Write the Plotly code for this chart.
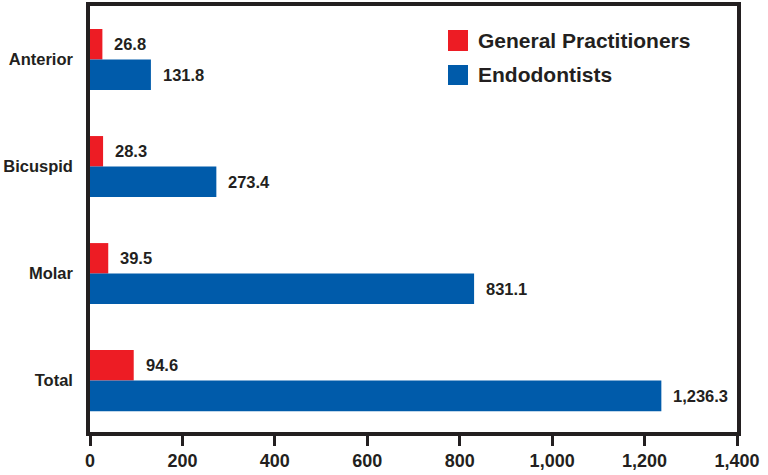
import plotly.graph_objects as go

categories = ["Anterior", "Bicuspid", "Molar", "Total"]
gp_values = [26.8, 28.3, 39.5, 94.6]
endo_values = [131.8, 273.4, 831.1, 1236.3]
series_names = ["General Practitioners", "Endodontists"]
x_ticks = [0, 200, 400, 600, 800, 1000, 1200, 1400]
x_tick_labels = ["0", "200", "400", "600", "800", "1,000", "1,200", "1,400"]

RED = "#ED1C24"
BLUE = "#005BAA"
INK = "#231F20"
FONT = "Liberation Sans"

fig = go.Figure()
fig.add_trace(go.Bar(y=categories, x=gp_values, orientation="h", name=series_names[0],
                     marker=dict(color=RED, line=dict(width=0)), showlegend=False))
fig.add_trace(go.Bar(y=categories, x=endo_values, orientation="h", name=series_names[1],
                     marker=dict(color=BLUE, line=dict(width=0)), showlegend=False))

# value labels placed just past the end of each bar
annotations = []
for vals, shift in ((gp_values, -0.145), (endo_values, 0.145)):
    for i, v in enumerate(vals):
        annotations.append(dict(
            x=v, y=i + shift, xref="x", yref="y",
            text=f"<b>{v:,.1f}</b>", showarrow=False,
            xanchor="left", yanchor="middle", xshift=10,
            font=dict(family=FONT, size=16.5, color=INK)))

# legend drawn as swatches + labels in the upper right of the plot
legend_rows = [(RED, series_names[0], 0.9437, 0.8944), (BLUE, series_names[1], 0.8615, 0.8146)]
shapes = []
for color, name, y1, y0 in legend_rows:
    shapes.append(dict(type="rect", xref="paper", yref="paper",
                       x0=0.5533, x1=0.5842, y0=y0, y1=y1,
                       fillcolor=color, line=dict(width=0)))
    annotations.append(dict(x=0.5966, y=(y0 + y1) / 2, xref="paper", yref="paper",
                            text=f"<b>{name}</b>", showarrow=False,
                            xanchor="left", yanchor="middle",
                            font=dict(family=FONT, size=21, color=INK)))

fig.update_layout(
    width=768, height=475,
    margin=dict(l=90, r=31, t=6, b=43),
    paper_bgcolor="white", plot_bgcolor="white",
    barmode="group", bargap=0.43, bargroupgap=0,
    font=dict(family=FONT, color=INK),
    shapes=shapes, annotations=annotations,
    xaxis=dict(range=[0, 1400], tickvals=x_ticks, ticktext=[f"<b>{t}</b>" for t in x_tick_labels],
               showgrid=False, zeroline=False, automargin=False,
               showline=True, linecolor=INK, linewidth=3.5, mirror=True,
               ticks="outside", ticklen=10, tickwidth=3, tickcolor=INK,
               tickfont=dict(family=FONT, size=18, color=INK)),
    yaxis=dict(categoryorder="array", categoryarray=categories, autorange=False,
               range=[3.48, -0.5], automargin=False,
               tickvals=categories, ticktext=[f"<b>{c}</b>" for c in categories],
               showgrid=False, zeroline=False,
               showline=True, linecolor=INK, linewidth=3.5, mirror=True,
               ticks="", ticklabelstandoff=10,
               tickfont=dict(family=FONT, size=16.5, color=INK)),
)

fig.write_html("out.html")
